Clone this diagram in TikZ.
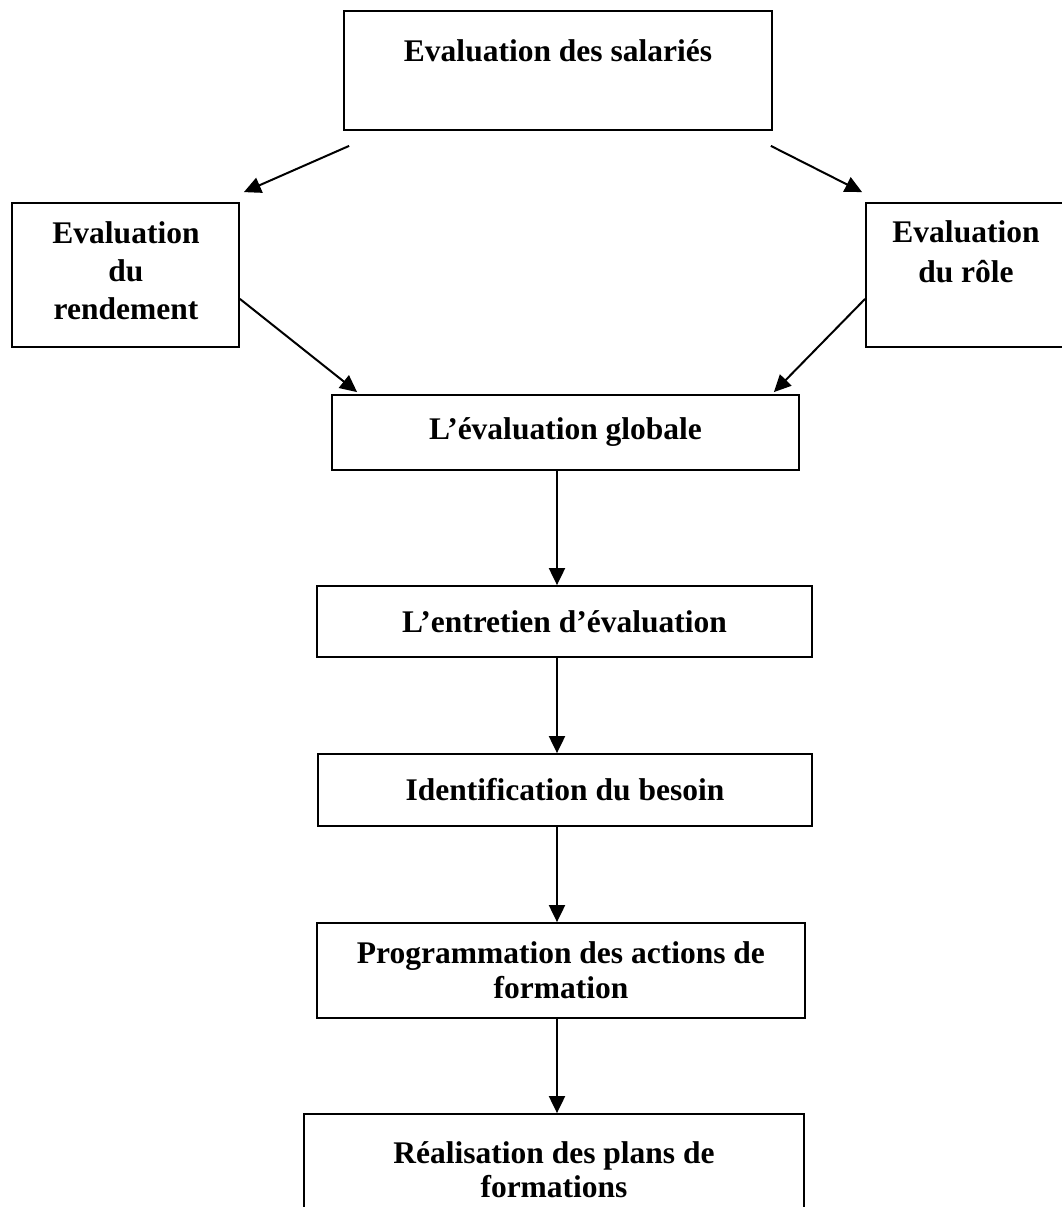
\documentclass[tikz,border=0pt]{standalone}
\usepackage{fontspec}
\setmainfont{Liberation Serif}
\usetikzlibrary{arrows.meta}
\tikzset{
  box/.style={draw, line width=0.9pt, inner sep=0pt, rectangle},
  txt/.style={font=\fontsize{15.75}{19}\selectfont\bfseries, align=center, inner sep=0pt},
  arr/.style={line width=1pt, -{Triangle[length=8.5pt,width=8pt]}},
}
\begin{document}
\begin{tikzpicture}[x=0.5pt,y=-0.5pt]
\useasboundingbox (0,0) rectangle (1062,1207);
\clip (0,0) rectangle (1062,1207);
% boxes
\node[box, minimum width=214pt, minimum height=59.5pt] (top) at (558,70.5) {};
\node[box, minimum width=113.5pt, minimum height=72pt] (left) at (125.5,275) {};
\node[box, minimum width=113.5pt, minimum height=72pt] (right) at (979.5,275) {};
\node[box, txt, minimum width=233.5pt, minimum height=37.5pt] (glob) at (565.5,432.5) {L’évaluation globale};
\node[box, txt, minimum width=247.5pt, minimum height=35.5pt] (ent) at (564.5,621.5) {L’entretien d’évaluation};
\node[box, txt, minimum width=247pt, minimum height=36pt] (ident) at (565,790) {Identification du besoin};
\node[box, txt, font=\fontsize{15.75}{17.5}\selectfont\bfseries, minimum width=244pt, minimum height=47.5pt] (prog) at (561,970.5) {Programmation des actions de\\formation};
\node[box, minimum width=250pt, minimum height=55pt] (real) at (554,1169) {};
% texts of boxes whose text is not centred (base = baseline of last line)
\node[txt, anchor=base] (ttop) at (558,61) {Evaluation des salariés};
\node[txt, anchor=base] (tleft) at (126,319) {Evaluation\\du\\rendement};
\node[txt, font=\fontsize{15.75}{20}\selectfont\bfseries, anchor=base] (tright) at (966,282) {Evaluation\\du rôle};
\node[txt, font=\fontsize{15.75}{17}\selectfont\bfseries, anchor=base] (treal) at (554,1197) {Réalisation des plans de\\formations};
% connectors
\draw[arr] ([shift={(6,15)}]top.south west) -- ([shift={(4,-10)}]left.north east);
\draw[arr] ([shift={(-2,15)}]top.south east) -- ([shift={(-3,-10)}]right.north west);
\draw[arr] ([shift={(0,-49)}]left.south east) -- ([shift={(26,-2)}]glob.north west);
\draw[arr] ([shift={(0,-49)}]right.south west) -- ([shift={(-26,-2)}]glob.north east);
\coordinate (vx) at (557,0);
\draw[arr] (glob.south -| vx) -- (ent.north -| vx);
\draw[arr] (ent.south -| vx) -- (ident.north -| vx);
\draw[arr] (ident.south -| vx) -- (prog.north -| vx);
\draw[arr] (prog.south -| vx) -- (real.north -| vx);
\end{tikzpicture}
\end{document}
